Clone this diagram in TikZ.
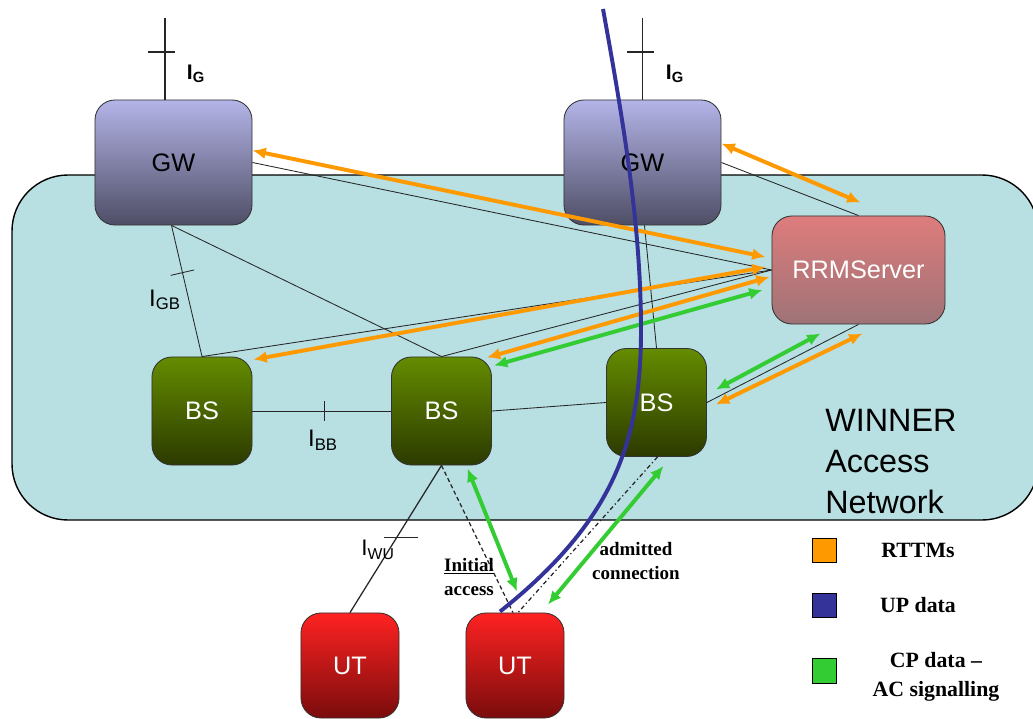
\documentclass[tikz,border=0pt]{standalone}
\usepackage{fontspec}
\setmainfont{Liberation Serif}
\setsansfont{Liberation Sans}
\usepackage{xcolor}
\usepackage{tikz}
\usetikzlibrary{calc}
\usetikzlibrary{arrows.meta}
\usetikzlibrary{positioning}

\definecolor{netcyan}{HTML}{B8DFE2}
\definecolor{gwtop}{HTML}{B4B4E8}
\definecolor{gwbot}{HTML}{4E4E66}
\definecolor{rrmtop}{HTML}{DE7C7C}
\definecolor{rrmbot}{HTML}{9E7377}
\definecolor{bstop}{HTML}{648C00}
\definecolor{bsbot}{HTML}{2C3A00}
\definecolor{uttop}{HTML}{FF2222}
\definecolor{utbot}{HTML}{7A0C0C}
\definecolor{rttmorange}{HTML}{FF9900}
\definecolor{upblue}{HTML}{333399}
\definecolor{cpgreen}{HTML}{33CC33}

\begin{document}
\begin{tikzpicture}[x=0.025cm,y=-0.025cm,>={Latex[length=9.5pt,width=8.5pt]}]
    \tikzstyle{every node}=[font=\sffamily]
    \tikzstyle{box}=[draw=black!80,line width=0.6pt,rounded corners=0.5cm,font=\sffamily\fontsize{18}{18}\selectfont]
    \tikzstyle{gwbox}=[box,top color=gwtop,bottom color=gwbot,minimum width=3.925cm,minimum height=3.125cm]
    \tikzstyle{rrmbox}=[box,top color=rrmtop,bottom color=rrmbot,text=white,minimum width=4.325cm,minimum height=2.7cm]
    \tikzstyle{bsbox}=[box,top color=bstop,bottom color=bsbot,text=white,minimum width=2.5cm,minimum height=2.7cm]
    \tikzstyle{utbox}=[box,top color=uttop,bottom color=utbot,text=white,minimum width=2.45cm,minimum height=2.625cm]
    \tikzstyle{wire}=[draw=black!85,line width=0.6pt]
    \tikzstyle{rttm}=[draw=rttmorange,line width=2.8pt,<->]
    \tikzstyle{cpsig}=[draw=cpgreen,line width=2.8pt,<->]
    \tikzstyle{updata}=[draw=upblue,line width=2.8pt]
    \tikzstyle{legbox}=[draw=black,line width=0.8pt,minimum size=0.62cm,inner sep=0pt]
    \tikzstyle{legtext}=[font=\rmfamily\bfseries\fontsize{15.5}{20.5}\selectfont,align=center]
    \tikzstyle{msgtext}=[font=\rmfamily\bfseries\fontsize{13.5}{17}\selectfont,align=center,inner sep=0pt]

    \useasboundingbox (0,0) rectangle (1033,718);

    % access network area
    \draw[fill=netcyan,line width=1pt,rounded corners=1.4cm] (12,175) rectangle (1038,520);
    \node[anchor=north west,align=left,inner sep=0pt,font=\sffamily\fontsize{23}{29}\selectfont] (winner) at (825,409) {WINNER\\Access\\Network};

    % nodes
    \node[gwbox] (gw1) at (173.5,162.5) {GW};
    \node[gwbox] (gw2) at (642.5,162.5) {GW};
    \node[rrmbox] (rrm) at (858.5,270) {RRMServer};
    \node[bsbox] (bs1) at (202,411) {BS};
    \node[bsbox] (bs2) at (441.5,411) {BS};
    \node[bsbox] (bs3) at (656.5,402.5) {BS};
    \node[utbox] (ut1) at (350,665.5) {UT};
    \node[utbox] (ut2) at (515,665.5) {UT};

    % interfaces
    \coordinate (ig1) at (165,18);
    \coordinate (ig2) at (642.5,18);
    \draw[wire,line width=1.2pt] (ig1) -- (ig1 |- gw1.north) ;
    \draw[wire,line width=1.2pt] (ig2) -- (ig2 |- gw2.north) ;
    \draw[wire,line width=1.2pt] ($(ig1)+(-17,34)$) -- ($(ig1)+(10,34)$) ;
    \draw[wire,line width=1.2pt] ($(ig2)+(-16,34)$) -- ($(ig2)+(11,34)$) ;
    \node[font=\sffamily\bfseries\fontsize{15}{15}\selectfont] (lig1) at (196,74) {I\textsubscript{G}} ;
    \node[font=\sffamily\bfseries\fontsize{15}{15}\selectfont] (lig2) at (675,74) {I\textsubscript{G}} ;

    \draw[wire] (gw1.east) -- (rrm.west) ;
    \draw[wire] (gw2.east) -- (rrm.north) ;
    \draw[wire] ($(gw1.south)+(-2,0)$) -- (bs1.north) coordinate[pos=0.36] (tgb) ;
    \draw[wire] ($(tgb)!0.3cm!90:(bs1.north)$) -- ($(tgb)!0.3cm!-90:(bs1.north)$) ;
    \node[font=\sffamily\fontsize{17}{17}\selectfont] (lgb) at (165,300) {I\textsubscript{GB}} ;
    \draw[wire] ($(gw1.south)+(-2,0)$) -- (bs2.north) ;
    \draw[wire] (bs1.north) -- (rrm.west) ;
    \draw[wire] (bs2.north) -- (rrm.west) ;
    \draw[wire] ($(gw2.south)+(2,0)$) -- (bs3.north) ;
    \draw[wire] (bs1.east) -- (bs2.west) coordinate[pos=0.52] (tbb) ;
    \draw[wire] ($(tbb)!0.25cm!90:(bs2.west)$) -- ($(tbb)!0.25cm!-90:(bs2.west)$) ;
    \node[font=\sffamily\fontsize{17}{17}\selectfont] (lbb) at (323,440) {I\textsubscript{BB}} ;
    \draw[wire] (bs2.east) -- (bs3.west) ;
    \draw[wire] (bs3.east) -- (rrm.south) ;
    \draw[wire,line width=0.9pt] (bs2.south) -- (ut1.north) coordinate[pos=0.49] (twu) ;
    \draw[wire,line width=0.9pt] ($(twu)+(-13,0)$) -- ($(twu)+(21,0)$) ;
    \node[font=\sffamily\fontsize{16}{16}\selectfont] (lwu) at (378,550) {I\textsubscript{WU}} ;
    \draw[wire,line width=0.9pt,dash pattern=on 3pt off 2pt] (bs2.south) -- ($(ut2.north)+(-2,0)$) ;
    \draw[wire,line width=0.9pt,dash dot] ($(bs3.south)+(1,0)$) -- ($(ut2.north)+(3,0)$) ;

    % RTTMs
    \draw[rttm] ($(gw1.east)+(0,-12)$) -- ($(rrm.west)+(-6,-13)$) ;
    \draw[rttm] ($(gw2.east)+(0,-19)$) -- ($(rrm.north)+(2,-13)$) ;
    \draw[rttm] ($(bs1.north east)+(1,3)$) -- ($(rrm.west)+(-6,-3)$) ;
    \draw[rttm] ($(bs2.north east)+(-5,1)$) -- ($(rrm.west)+(-2,7)$) ;
    \draw[rttm] ($(bs3.east)+(9,2)$) -- ($(rrm.south)+(4,9)$) ;

    % AC signalling
    \draw[cpsig] ($(bs2.north east)+(2,9)$) -- ($(rrm.west)+(-9,20)$) ;
    \draw[cpsig] ($(bs3.east)+(9,-13)$) -- ($(rrm.south)+(-38,9)$) ;
    \draw[cpsig] ($(bs2.south)+(26,3)$) -- ($(ut2.north)+(2,-21)$) ;
    \draw[cpsig] ($(bs3.south)+(7,9)$) -- ($(ut2.north)+(33,-8)$) ;

    % user plane
    \coordinate (upsrc) at (603,9);
    \draw[updata] (upsrc) .. controls (625,130) and (641,230) .. (641,330)
                  .. controls (641,440) and (615,520) .. ($(ut2.north)+(-15,-1)$) ;

    \node[msgtext] (initacc) at (469,577) {\underline{Initial}\\access} ;
    \node[msgtext] (admconn) at (636,561) {admitted\\connection} ;

    % legend
    \node[legbox,fill=rttmorange] (lrttm) at (824.5,550.5) {} ;
    \node[legbox,fill=upblue] (lup) at (824.5,605.5) {} ;
    \node[legbox,fill=cpgreen] (lcp) at (824.5,671) {} ;
    \node[legtext] at (918,550) {RTTMs} ;
    \node[legtext] at (918,605) {UP data} ;
    \node[legtext] at (936,677) {CP data --\\AC signalling} ;
\end{tikzpicture}
\end{document}
